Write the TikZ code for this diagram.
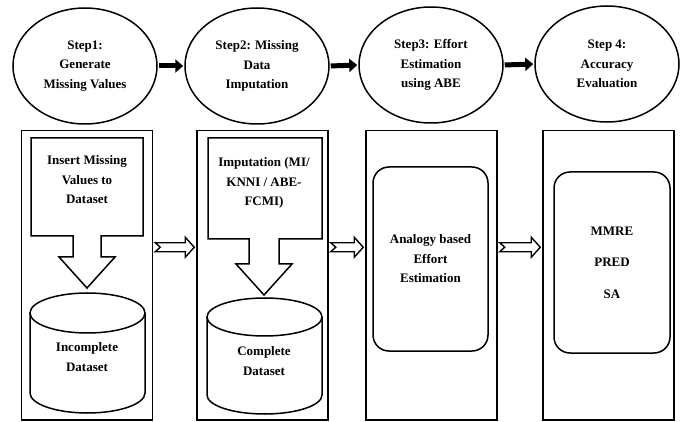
\documentclass[tikz,border=0pt]{standalone}
\usepackage{fontspec}
\setmainfont{Liberation Serif}
\usetikzlibrary{shapes.geometric,arrows.meta,calc}

\begin{document}
\begin{tikzpicture}[x=1pt, y=-1pt, line width=1.5pt,
  font=\fontsize{13}{19.5}\selectfont\bfseries,
  stepnode/.style={draw, ellipse, minimum width=144pt, minimum height=116pt, inner sep=0pt, align=center},
  stepbox/.style={draw, minimum width=131pt, minimum height=289pt, anchor=north},
  roundbox/.style={draw, rounded corners=16pt, align=center},
  flowarrow/.style={line width=5pt, -{Triangle[length=8pt, width=13pt]}, shorten <=1pt, shorten >=1pt},
  hollowarrow/.style={line width=1.4pt, line join=miter, fill=white},
  label/.style={align=center}]
\useasboundingbox (0,0) rectangle (686,422);

%Steps
\node [stepnode] (s1) at (85,66)  {Step1:\\Generate\\Missing Values};
\node [stepnode] (s2) at (257,66) {Step2: Missing\\Data\\Imputation};
\node [stepnode] (s3) at (431,65) {Step3: Effort\\Estimation\\using ABE};
\node [stepnode] (s4) at (607,64) {Step 4:\\Accuracy\\Evaluation};
\draw [flowarrow] (s1.east) -- (s2.west);
\draw [flowarrow] (s2.east) -- (s3.west);
\draw [flowarrow] (s3.east) -- (s4.west);

%Stage Boxes
\node [stepbox] (b1) at (87,130)    {};
\node [stepbox] (b2) at (262.5,130) {};
\node [stepbox] (b3) at (431.5,130) {};
\node [stepbox] (b4) at (608.5,130) {};
\foreach \from/\to in {b1/b2,b2/b3,b3/b4}
  \draw [hollowarrow] let \p1=([yshift=28pt]\from.east), \p2=([yshift=28pt]\to.west) in
    (\x1+2pt,\y1+4.5pt) -- (\x2-11pt,\y1+4.5pt) -- (\x2-11pt,\y1+10pt) -- (\x2-2pt,\y1)
    -- (\x2-11pt,\y1-10pt) -- (\x2-11pt,\y1-4.5pt) -- (\x1+2pt,\y1-4.5pt) -- (\x1+7pt,\y1) -- cycle;

%Stage 1
\draw (31,138) -- (143,138) -- (143,236) -- (101,236) -- (101,257) -- (115,257) -- (87,288)
  -- (59,257) -- (73,257) -- (73,236) -- (31,236) -- cycle;
\node [label] (ins) at (87,180) {Insert Missing\\Values to\\Dataset};
\draw (87.5,313) ellipse [x radius=57.5pt, y radius=20pt];
\draw (30,313) -- (30,393) arc [start angle=180, end angle=360, x radius=57.5pt, y radius=20pt] -- (145,313);
\node [label] (inc) at (87,357) {Incomplete\\Dataset};

%Stage 2
\draw (208,138) -- (322,138) -- (322,239) -- (279,239) -- (279,264) -- (292,264) -- (264,295)
  -- (236,264) -- (249,264) -- (249,239) -- (208,239) -- cycle;
\node [label] (imp) at (264,183) {Imputation (MI/\\KNNI / ABE-\\FCMI)};
\draw (264.5,317) ellipse [x radius=57.5pt, y radius=19pt];
\draw (207,317) -- (207,395) arc [start angle=180, end angle=360, x radius=57.5pt, y radius=19pt] -- (322,317);
\node [label] (com) at (264,361) {Complete\\Dataset};

%Stage 3 and 4
\node [roundbox, minimum width=115pt, minimum height=184pt] (abe) at (430.5,259) {Analogy based\\Effort\\Estimation};
\node [roundbox, minimum width=116pt, minimum height=181pt] (acc) at (612,262.5) {MMRE\\[12pt]PRED\\[12pt]SA};

\end{tikzpicture}
\end{document}
